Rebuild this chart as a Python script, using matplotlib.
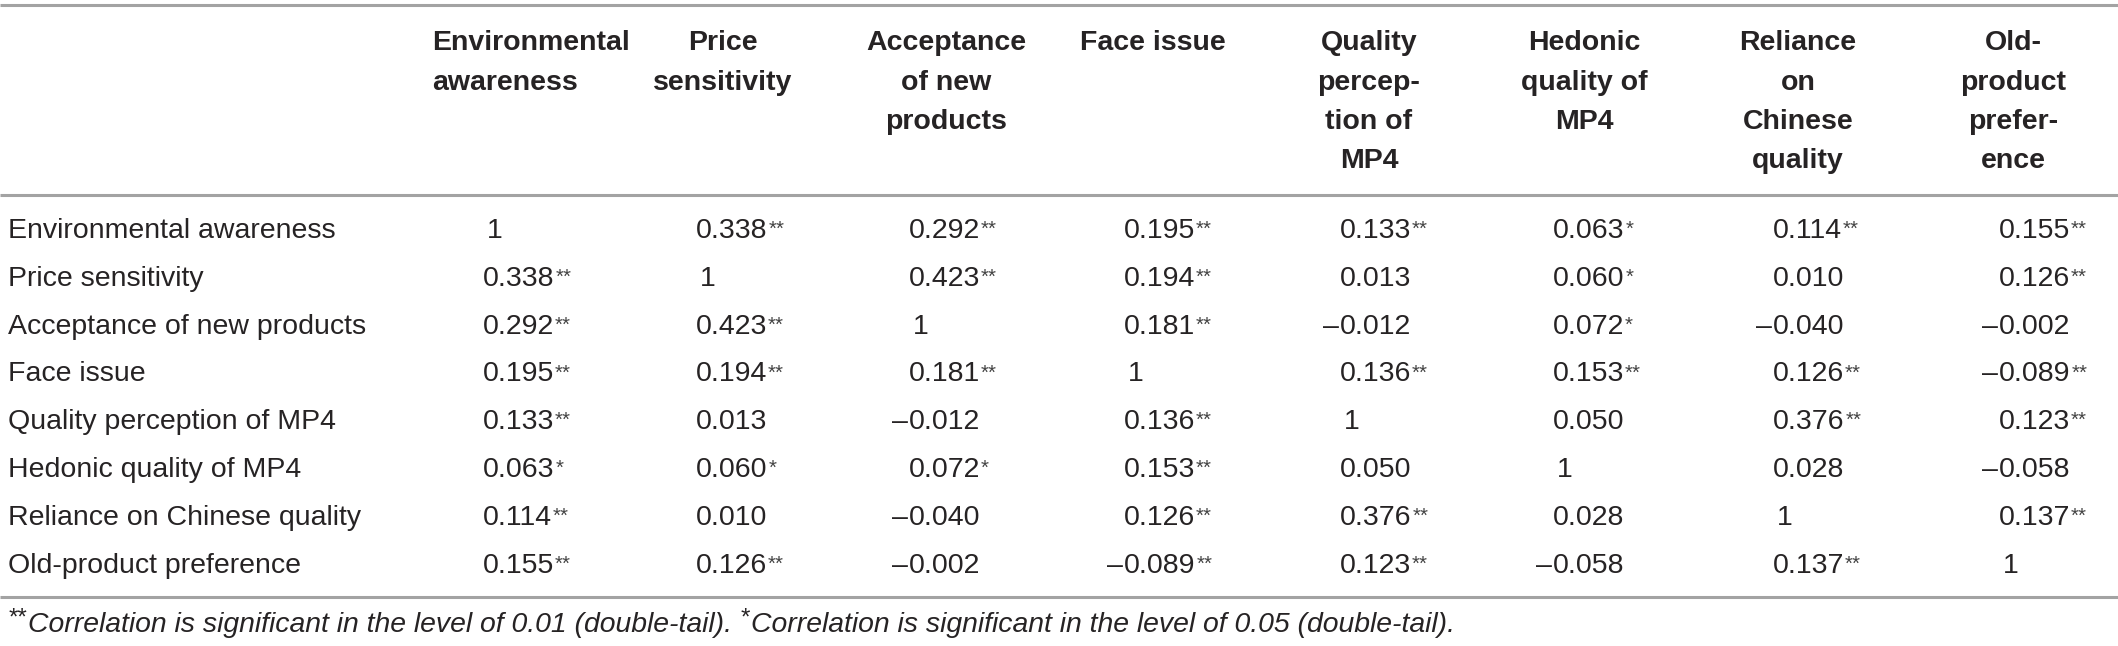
import matplotlib
matplotlib.use("Agg")
import matplotlib.pyplot as plt

# ---------------- data ----------------
row_labels = ["Environmental awareness", "Price sensitivity", "Acceptance of new products",
              "Face issue", "Quality perception of MP4", "Hedonic quality of MP4",
              "Reliance on Chinese quality", "Old-product preference"]

col_headers = [["Environmental", "awareness"], ["Price", "sensitivity"],
               ["Acceptance", "of new", "products"], ["Face issue"],
               ["Quality", "percep-", "tion of", "MP4"], ["Hedonic", "quality of", "MP4"],
               ["Reliance", "on", "Chinese", "quality"], ["Old-", "product", "prefer-", "ence"]]

r_env = [1, 0.338, 0.292, 0.195, 0.133, 0.063, 0.114, 0.155]
r_price = [0.338, 1, 0.423, 0.194, 0.013, 0.060, 0.010, 0.126]
r_accept = [0.292, 0.423, 1, 0.181, -0.012, 0.072, -0.040, -0.002]
r_face = [0.195, 0.194, 0.181, 1, 0.136, 0.153, 0.126, -0.089]
r_quality = [0.133, 0.013, -0.012, 0.136, 1, 0.050, 0.376, 0.123]
r_hedonic = [0.063, 0.060, 0.072, 0.153, 0.050, 1, 0.028, -0.058]
r_reliance = [0.114, 0.010, -0.040, 0.126, 0.376, 0.028, 1, 0.137]
r_old = [0.155, 0.126, -0.002, -0.089, 0.123, -0.058, 0.137, 1]

s_env = ["", "**", "**", "**", "**", "*", "**", "**"]
s_price = ["**", "", "**", "**", "", "*", "", "**"]
s_accept = ["**", "**", "", "**", "", "*", "", ""]
s_face = ["**", "**", "**", "", "**", "**", "**", "**"]
s_quality = ["**", "", "", "**", "", "", "**", "**"]
s_hedonic = ["*", "*", "*", "**", "", "", "", ""]
s_reliance = ["**", "", "", "**", "**", "", "", "**"]
s_old = ["**", "**", "", "**", "**", "", "**", ""]

values = [r_env, r_price, r_accept, r_face, r_quality, r_hedonic, r_reliance, r_old]
stars = [s_env, s_price, s_accept, s_face, s_quality, s_hedonic, s_reliance, s_old]

footnote_a = "Correlation is significant in the level of 0.01 (double-tail). "
footnote_b = "Correlation is significant in the level of 0.05 (double-tail)."

# ---------------- layout ----------------
W, H = 2118, 646
fig = plt.figure(figsize=(W / 100, H / 100), dpi=100)
ax = fig.add_axes([0, 0, 1, 1])
ax.set_xlim(0, W)
ax.set_ylim(H, 0)
ax.axis("off")

FONT = "Liberation Sans"
TXT = "#262324"
LINE = "#a3a3a3"
FS = 20.5
HFS = 20.5
NFS = 20.4

col_x = [483, 696, 909, 1124, 1340, 1553, 1773, 1999]
head_x = [432, 723, 946, 1153, 1369, 1584, 1798, 2013]
head_ha = ["left", "center", "center", "center", "center", "center", "center", "center"]
head_y0, head_dy = 43, 39.5
row_y0, row_dy = 231, 47.8
label_x = 8

# rules
for y in (5, 195, 597):
    ax.plot([0, W], [y, y], color=LINE, lw=2.2, solid_capstyle="butt")

# headers
for j, lines in enumerate(col_headers):
    for k, ln in enumerate(lines):
        ax.text(head_x[j], head_y0 + k * head_dy, ln, ha=head_ha[j], va="center",
                fontsize=HFS, fontweight="bold", family=FONT, color=TXT)

# body
for i, lab in enumerate(row_labels):
    y = row_y0 + i * row_dy
    ax.text(label_x, y, lab, ha="left", va="center", fontsize=FS, family=FONT, color=TXT)
    for j in range(len(col_x)):
        v = values[i][j]
        x = col_x[j]
        if v == 1:
            t = ax.text(x + 4, y, "1", ha="left", va="center", fontsize=FS, family=FONT, color=TXT)
        else:
            t = ax.text(x, y, f"{abs(v):.3f}", ha="left", va="center", fontsize=FS,
                        family=FONT, color=TXT)
            if v < 0:
                ax.text(x - 1, y, "\u2013", ha="right", va="center", fontsize=FS,
                        family=FONT, color=TXT)
        if stars[i][j]:
            ax.annotate(stars[i][j], xy=(1, 1), xycoords=t, xytext=(0.5, -1.5),
                        textcoords="offset points", ha="left", va="top",
                        fontsize=FS * 0.72, family=FONT, color="#444444")

# footnote
base = 632
t1 = ax.text(8, base - 7, "**", ha="left", va="baseline", fontsize=NFS * 0.85, family=FONT,
             style="italic", color=TXT)
t2 = ax.annotate(footnote_a, xy=(1, base), xycoords=(t1, "data"), xytext=(1, 0),
                 textcoords="offset points", ha="left", va="baseline",
                 fontsize=NFS, family=FONT, style="italic", color=TXT)
t3 = ax.annotate("*", xy=(1, base - 7), xycoords=(t2, "data"), xytext=(0, 0),
                 textcoords="offset points", ha="left", va="baseline",
                 fontsize=NFS * 0.85, family=FONT, style="italic", color=TXT)
ax.annotate(footnote_b, xy=(1, base), xycoords=(t3, "data"), xytext=(1, 0),
            textcoords="offset points", ha="left", va="baseline",
            fontsize=NFS, family=FONT, style="italic", color=TXT)

fig.savefig("out.png", dpi=100, facecolor="white")
